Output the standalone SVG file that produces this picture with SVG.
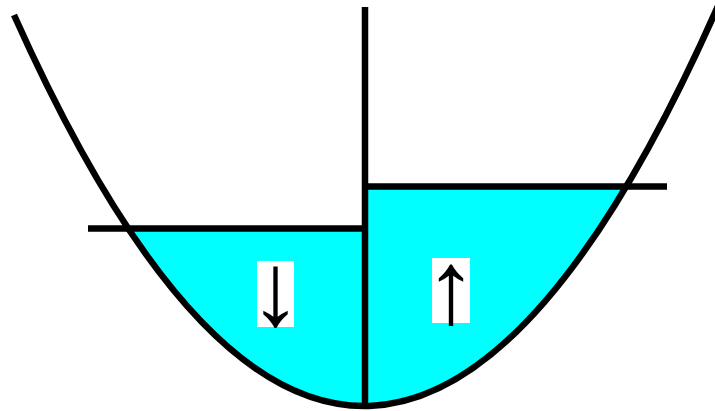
<svg xmlns="http://www.w3.org/2000/svg" width="715" height="411" viewBox="0 0 715 411">
<style>
.ln{fill:none;stroke:#000;stroke-width:6.5}
.water{fill:#00ffff;stroke:none}
.box{fill:#fff}
.arr{font-family:"Liberation Serif","DejaVu Serif",serif;font-size:104px;text-anchor:middle;fill:#000}
</style>
<rect width="715" height="411" fill="#fff"/>
<g id="water-left"><path class="water" d="M128,228 L365,228 L365,406 L364,406 Q246,406 128,228 Z"/></g>
<g id="water-right"><path class="water" d="M365,187 L626,187 Q495,406 364,406 L365,406 Z"/></g>
<g id="connectors">
<path id="parabola" class="ln" d="M14,15 Q369,808.2 724,-7.7"/>
<line class="ln" x1="365" y1="7" x2="365" y2="406"/>
<line class="ln" x1="88" y1="228.5" x2="365" y2="228.5"/>
<line class="ln" x1="365" y1="186.5" x2="667" y2="186.5"/>
</g>
<g id="label-down"><rect class="box" x="257" y="261" width="37" height="66"/><text class="arr" x="275.5" y="325">↓</text></g>
<g id="label-up"><rect class="box" x="432" y="258" width="38" height="65"/><text class="arr" x="451" y="323">↑</text></g>
</svg>
